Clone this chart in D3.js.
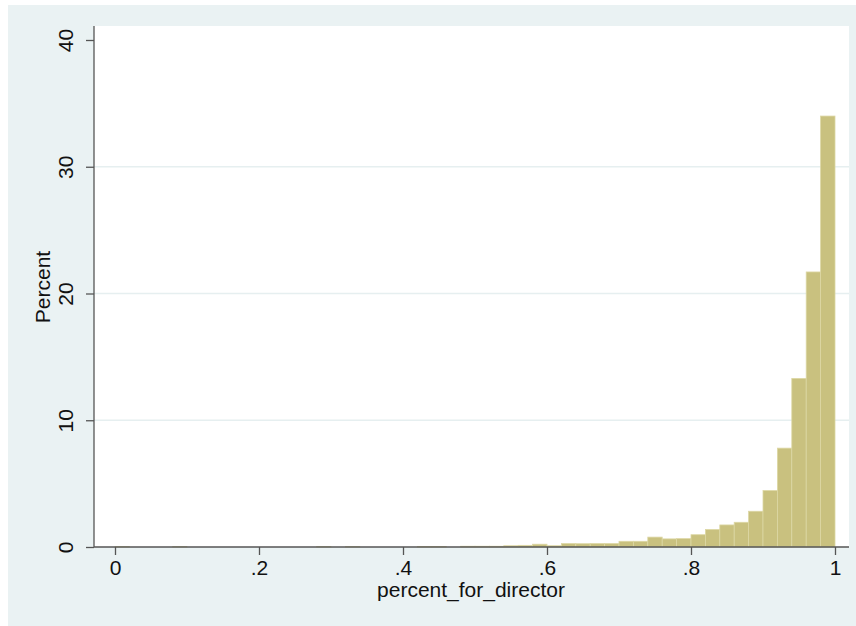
<!DOCTYPE html>
<html>
<head>
<meta charset="utf-8">
<script src="https://cdn.jsdelivr.net/npm/d3@7"></script>
<style>
  body { margin: 0; background: #ffffff; }
  text { font-family: "Liberation Sans", Arial, sans-serif; fill: #111; }
</style>
</head>
<body>
<script>
// histogram of percent_for_director, bins of width .02
var binStart = d3.range(0, 50).map(function(i) { return i * 0.02; });
var binWidth = 0.02;
var percents = [
  0.03, 0, 0, 0, 0.03, 0, 0, 0, 0, 0,
  0, 0, 0, 0, 0.03, 0, 0.03, 0, 0, 0,
  0, 0.04, 0.04, 0, 0.06, 0.06, 0.06, 0.1, 0.13, 0.22,
  0.1, 0.27, 0.26, 0.27, 0.27, 0.45, 0.45, 0.78, 0.64, 0.66,
  0.97, 1.38, 1.74, 1.95, 2.82, 4.45, 7.8, 13.3, 21.7, 34
];
var xTicks = [0, 0.2, 0.4, 0.6, 0.8, 1];
var xTickLabels = ["0", ".2", ".4", ".6", ".8", "1"];
var yTicks = [0, 10, 20, 30, 40];
var yGrid = [10, 20, 30];

var w = 856, h = 626;
var svg = d3.select("body").append("svg")
  .attr("width", w)
  .attr("height", h);

// stata style outer background
svg.append("rect")
  .attr("x", 8).attr("y", 5)
  .attr("width", w - 8).attr("height", h - 5)
  .attr("fill", "#eaf2f3");

// plot region
svg.append("rect")
  .attr("x", 94).attr("y", 26)
  .attr("width", 755).attr("height", 521)
  .attr("fill", "#ffffff");

var x = d3.scaleLinear().domain([0, 1]).range([115, 835]);
var y = d3.scaleLinear().domain([0, 40]).range([547, 40]);

// grid lines
svg.selectAll(".grid")
  .data(yGrid)
  .enter()
  .append("line")
  .attr("x1", 94).attr("x2", 849)
  .attr("y1", function(d) { return y(d); })
  .attr("y2", function(d) { return y(d); })
  .attr("stroke", "#e6eff0")
  .attr("stroke-width", 1.3);

// bars
svg.selectAll(".bar")
  .data(percents)
  .enter()
  .append("rect")
  .attr("x", function(d, i) { return x(binStart[i]); })
  .attr("y", function(d) { return y(d); })
  .attr("width", function(d, i) { return x(binStart[i] + binWidth) - x(binStart[i]); })
  .attr("height", function(d) { return y(0) - y(d); })
  .attr("fill", "#c9c17f")
  .attr("stroke", "#ddd7a4")
  .attr("stroke-width", 0.8);

// x axis
var xAxis = d3.axisBottom(x)
  .tickValues(xTicks)
  .tickFormat(function(d, i) { return xTickLabels[i]; })
  .tickSize(8)
  .tickSizeOuter(0)
  .tickPadding(5);

var gx = svg.append("g")
  .attr("transform", "translate(0," + 547 + ")")
  .call(xAxis);
gx.select(".domain").remove();
gx.append("line")
  .attr("x1", 94).attr("x2", 849)
  .attr("y1", 0).attr("y2", 0)
  .attr("stroke", "#555").attr("stroke-width", 1.3);
gx.selectAll(".tick line").attr("stroke", "#555").attr("stroke-width", 1.3);
gx.selectAll(".tick text")
  .attr("font-size", 21)
  .attr("font-family", "Liberation Sans, Arial, sans-serif")
  .attr("fill", "#111");

// y axis
var yAxis = d3.axisLeft(y)
  .tickValues(yTicks)
  .tickFormat(d3.format("d"))
  .tickSize(8)
  .tickSizeOuter(0);

var gy = svg.append("g")
  .attr("transform", "translate(94,0)")
  .call(yAxis);
gy.select(".domain").remove();
gy.append("line")
  .attr("x1", 0).attr("x2", 0)
  .attr("y1", 26).attr("y2", 547)
  .attr("stroke", "#555").attr("stroke-width", 1.3);
gy.selectAll(".tick line").attr("stroke", "#555").attr("stroke-width", 1.3);
gy.selectAll(".tick text")
  .attr("x", null).attr("dy", null)
  .attr("transform", "translate(-21,0) rotate(-90)")
  .attr("text-anchor", "middle")
  .attr("font-size", 21)
  .attr("font-family", "Liberation Sans, Arial, sans-serif")
  .attr("fill", "#111");

// axis titles
svg.append("text")
  .text("percent_for_director")
  .attr("x", 471)
  .attr("y", 597)
  .attr("text-anchor", "middle")
  .attr("font-size", 21);

svg.append("text")
  .text("Percent")
  .attr("transform", "translate(50,287) rotate(-90)")
  .attr("text-anchor", "middle")
  .attr("font-size", 21);
</script>
</body>
</html>
